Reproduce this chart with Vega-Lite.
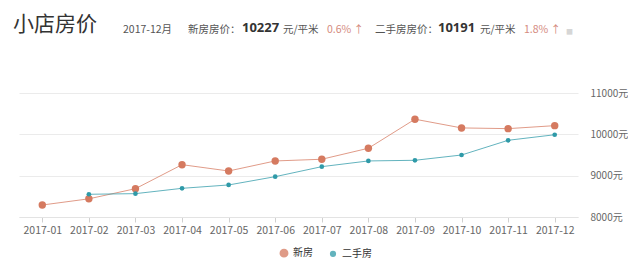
{
  "$schema": "https://vega.github.io/schema/vega-lite/v6.json",
  "padding": {"left": 13, "top": 14, "right": 0, "bottom": 0},
  "bounds": "flush",
  "spacing": 54,
  "background": "white",
  "config": {
    "view": {"stroke": null},
    "font": "Noto Sans CJK SC",
    "title": {"anchor": "start", "frame": "group", "orient": "top", "offset": 0, "baseline": "alphabetic", "font": "Noto Sans CJK SC", "fontWeight": "normal", "fontSize": 10.5, "color": "#555555"}
  },
  "vconcat": [
    {
      "spacing": 0,
      "bounds": "flush",
      "hconcat": [
        {"width": 104, "height": 20, "data": {"values": [{}]}, "mark": {"type": "text", "text": " ", "opacity": 0}, "title": {"text": "小店房价", "fontSize": 21, "color": "#333333", "dx": -6}},
        {"width": 65, "height": 20, "data": {"values": [{}]}, "mark": {"type": "text", "text": " ", "opacity": 0}, "title": {"text": "2017-12月"}},
        {"width": 54, "height": 20, "data": {"values": [{}]}, "mark": {"type": "text", "text": " ", "opacity": 0}, "title": {"text": "新房房价："}},
        {"width": 41, "height": 20, "data": {"values": [{}]}, "mark": {"type": "text", "text": " ", "opacity": 0}, "title": {"text": "10227", "font": "Open Sans", "fontWeight": "bold", "fontSize": 13, "color": "#333333"}},
        {"width": 44, "height": 20, "data": {"values": [{}]}, "mark": {"type": "text", "text": " ", "opacity": 0}, "title": {"text": "元/平米"}},
        {"width": 48, "height": 20, "data": {"values": [{}]}, "mark": {"type": "text", "text": " ", "opacity": 0}, "title": {"text": "0.6% ↑", "color": "#d48a7e"}},
        {"width": 63, "height": 20, "data": {"values": [{}]}, "mark": {"type": "text", "text": " ", "opacity": 0}, "title": {"text": "二手房房价："}},
        {"width": 42, "height": 20, "data": {"values": [{}]}, "mark": {"type": "text", "text": " ", "opacity": 0}, "title": {"text": "10191", "font": "Open Sans", "fontWeight": "bold", "fontSize": 13, "color": "#333333"}},
        {"width": 44, "height": 20, "data": {"values": [{}]}, "mark": {"type": "text", "text": " ", "opacity": 0}, "title": {"text": "元/平米"}},
        {"width": 42, "height": 20, "data": {"values": [{}]}, "mark": {"type": "text", "text": " ", "opacity": 0}, "title": {"text": "1.8% ↑", "color": "#d48a7e"}},
        {"width": 12, "height": 20, "data": {"values": [{}]}, "mark": {"type": "text", "text": " ", "opacity": 0}, "title": {"text": "■", "fontSize": 7, "color": "#d6d6d6"}}
      ]
    },
    {
      "width": 559,
      "height": 124,
      "data": {
        "values": [
          {"month": "2017-01", "series": "新房", "price": 8290},
          {"month": "2017-02", "series": "新房", "price": 8440},
          {"month": "2017-03", "series": "新房", "price": 8685},
          {"month": "2017-04", "series": "新房", "price": 9266},
          {"month": "2017-05", "series": "新房", "price": 9113},
          {"month": "2017-06", "series": "新房", "price": 9356},
          {"month": "2017-07", "series": "新房", "price": 9397},
          {"month": "2017-08", "series": "新房", "price": 9663},
          {"month": "2017-09", "series": "新房", "price": 10366},
          {"month": "2017-10", "series": "新房", "price": 10155},
          {"month": "2017-11", "series": "新房", "price": 10138},
          {"month": "2017-12", "series": "新房", "price": 10210},
          {"month": "2017-02", "series": "二手房", "price": 8550},
          {"month": "2017-03", "series": "二手房", "price": 8565},
          {"month": "2017-04", "series": "二手房", "price": 8694},
          {"month": "2017-05", "series": "二手房", "price": 8775},
          {"month": "2017-06", "series": "二手房", "price": 8976},
          {"month": "2017-07", "series": "二手房", "price": 9218},
          {"month": "2017-08", "series": "二手房", "price": 9356},
          {"month": "2017-09", "series": "二手房", "price": 9372},
          {"month": "2017-10", "series": "二手房", "price": 9500},
          {"month": "2017-11", "series": "二手房", "price": 9856},
          {"month": "2017-12", "series": "二手房", "price": 9990}
        ]
      },
      "encoding": {
        "x": {
          "field": "month", "type": "ordinal",
          "scale": {"type": "point", "padding": 0.5},
          "axis": {"title": null, "labelAngle": 0, "grid": false, "domainColor": "#e3e3e3", "tickColor": "#d0d0d0", "tickSize": 5, "labelFontSize": 10.5, "labelColor": "#666666", "labelPadding": 3, "labelFont": "Noto Sans CJK SC"}
        },
        "y": {
          "field": "price", "type": "quantitative",
          "scale": {"domain": [8000, 11000], "nice": false, "zero": false},
          "axis": {"title": null, "orient": "right", "values": [8000, 9000, 10000, 11000], "labelExpr": "datum.value + '元'", "domain": false, "ticks": false, "gridColor": "#ebebeb", "labelPadding": 12, "labelColor": "#666666", "labelFontSize": 10, "labelFont": "Noto Sans CJK SC"}
        },
        "color": {
          "field": "series", "type": "nominal",
          "scale": {"domain": ["新房", "二手房"], "range": ["#d57a60", "#2f9aa8"]},
          "legend": {"title": null, "orient": "none", "legendX": 260, "legendY": 209, "direction": "horizontal", "labelFontSize": 10, "labelColor": "#333333", "symbolSize": 30, "columnPadding": 14, "labelOffset": 4}
        }
      },
      "layer": [
        {"mark": {"type": "line", "strokeWidth": 1, "opacity": 0.75}},
        {"mark": {"type": "point", "filled": true, "opacity": 1}, "encoding": {"size": {"field": "series", "type": "nominal", "scale": {"domain": ["新房", "二手房"], "range": [55, 22]}, "legend": null}}}
      ]
    }
  ]
}
